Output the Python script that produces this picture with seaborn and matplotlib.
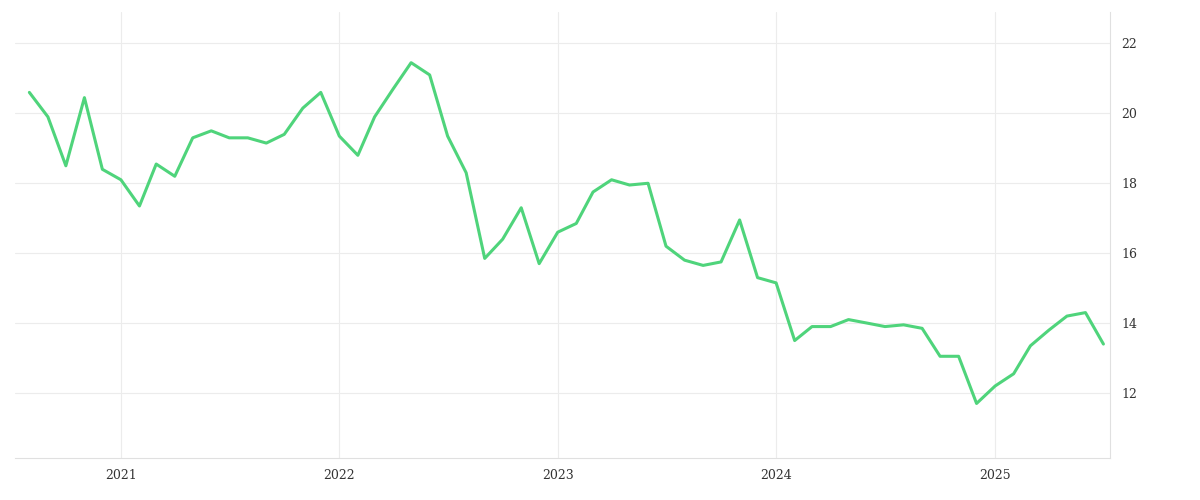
import pandas as pd
import numpy as np
import seaborn as sns
import matplotlib.pyplot as plt
import matplotlib.dates as mdates

MONTHS = pd.date_range("2020-08-01", "2025-07-01", freq="MS")
VALUES = [20.6, 19.9, 18.5, 20.45, 18.4,
          18.1, 17.35, 18.55, 18.2, 19.3, 19.5, 19.3, 19.3, 19.15, 19.4, 20.15, 20.6,
          19.35, 18.8, 19.9, 20.7, 21.45, 21.1, 19.35, 18.3, 15.85, 16.4, 17.3, 15.7,
          16.6, 16.85, 17.75, 18.1, 17.95, 18.0, 16.2, 15.8, 15.65, 15.75, 16.95, 15.3,
          15.15, 13.5, 13.9, 13.9, 14.1, 14.0, 13.9, 13.95, 13.85, 13.05, 13.05, 11.7,
          12.2, 12.55, 13.35, 13.8, 14.2, 14.3, 13.4]
Y_TICKS = [12, 14, 16, 18, 20, 22]

df = pd.DataFrame({"date": MONTHS, "value": VALUES})

sns.set_style("white")
plt.rcParams['font.family'] = ['DejaVu Serif']
fig, ax = plt.subplots(figsize=(12, 5), dpi=100)
fig.subplots_adjust(left=0.0125, right=0.925, top=0.976, bottom=0.084)

sns.lineplot(data=df, x="date", y="value", color="#4fd47b", linewidth=2.2, ax=ax)

ax.set_xlim(pd.Timestamp("2020-07-08"), pd.Timestamp("2025-07-12"))
ax.set_ylim(10.14, 22.9)
ax.yaxis.tick_right()
ax.set_yticks(Y_TICKS)
ax.xaxis.set_major_locator(mdates.YearLocator())
ax.xaxis.set_major_formatter(mdates.DateFormatter("%Y"))
ax.grid(True, color="#ececec", linewidth=0.8)
for s in ["top", "left"]:
    ax.spines[s].set_visible(False)
for s in ["bottom", "right"]:
    ax.spines[s].set_color("#e0e0e0")
ax.tick_params(length=0, labelsize=9, colors="#333333", pad=8)
ax.set_xlabel("")
ax.set_ylabel("")

fig.savefig("out.png")
